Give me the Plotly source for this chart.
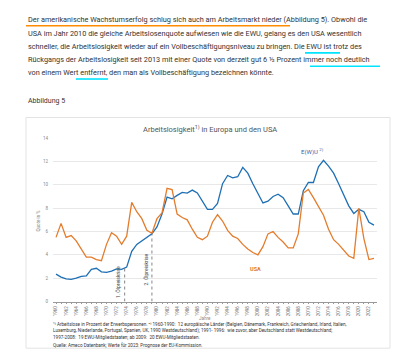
import plotly.graph_objects as go

years = list(range(1960, 2024))
ewu = [2.35, 2.1, 1.95, 1.9, 2.0, 2.15, 2.2, 2.75, 2.85, 2.55,
       2.5, 2.6, 2.8, 2.75, 2.95, 4.3, 4.9, 5.2, 5.55, 5.8,
       6.4, 7.5, 8.95, 8.8, 9.1, 9.35, 9.3, 9.55, 9.3, 8.6,
       7.9, 7.9, 8.4, 10.1, 10.8, 10.6, 10.7, 11.5, 11.0, 10.1,
       9.2, 8.45, 8.6, 9.0, 9.2, 8.9, 8.2, 7.5, 7.5, 9.5,
       10.2, 10.2, 11.55, 12.1, 11.6, 11.0, 10.1, 9.2, 8.2, 7.55,
       7.9, 7.7, 6.8, 6.55]
usa = [5.5, 6.7, 5.5, 5.65, 5.2, 4.5, 3.8, 3.8, 3.6, 3.5,
       4.9, 5.9, 5.6, 4.9, 5.6, 8.5, 7.7, 7.1, 6.1, 5.85,
       7.1, 7.6, 9.7, 9.6, 7.5, 7.2, 7.0, 6.2, 5.5, 5.3,
       5.6, 6.8, 7.45, 6.9, 6.1, 5.6, 5.4, 4.9, 4.5, 4.2,
       4.0, 4.7, 5.8, 6.0, 5.5, 5.1, 4.6, 4.6, 5.8, 9.3,
       9.6, 8.9, 8.1, 7.4, 6.2, 5.3, 4.9, 4.4, 3.9, 3.7,
       8.0, 5.4, 3.6, 3.7]
event_years = [1973.6, 1979]
event_tops = [2.9, 5.8]
event_labels = ["1. Ölpreiskrise", "2. Ölpreiskrise"]
y_ticks = [0, 2, 4, 6, 8, 10, 12, 14]
x_ticks = list(range(1960, 2023, 2))

paragraph = [
    "Der amerikanische Wachstumserfolg schlug sich auch am Arbeitsmarkt nieder (Abbildung 5). Obwohl die",
    "USA im Jahr 2010 die gleiche Arbeitslosenquote aufwiesen wie die EWU, gelang es den USA wesentlich",
    "schneller, die Arbeitslosigkeit wieder auf ein Vollbeschäftigungsniveau zu bringen. Die EWU ist trotz des",
    "Rückgangs der Arbeitslosigkeit seit 2013 mit einer Quote von derzeit gut 6 ½ Prozent immer noch deutlich",
    "von einem Wert entfernt, den man als Vollbeschäftigung bezeichnen könnte.",
]
footnotes = [
    "¹⁾ Arbeitslose in Prozent der Erwerbspersonen. ²⁾ 1960-1990:  12 europäische Länder (Belgien, Dänemark, Frankreich, Griechenland, Irland, Italien,",
    "Luxemburg, Niederlande, Portugal, Spanien, UK, 1990 Westdeutschland); 1991- 1996:  wie zuvor, aber Deutschland statt Westdeutschland;",
    "1997-2008:  19 EWU-Mitgliedstaaten; ab 2009:  20 EWU-Mitgliedstaaten.",
    "Quelle: Ameco Datenbank; Werte für 2023: Prognose der EU-Kommission.",
]

W, H = 400, 356
def px(x): return x / W
def py(y): return 1 - y / H

BLUE = "#1f6fb4"
ORANGE = "#e47c2c"
FONT = "Roboto"

fig = go.Figure()
fig.add_trace(go.Scatter(x=years, y=ewu, mode="lines", line=dict(color=BLUE, width=1.3), hoverinfo="skip"))
fig.add_trace(go.Scatter(x=years, y=usa, mode="lines", line=dict(color=ORANGE, width=1.3), hoverinfo="skip"))

shapes = []
annotations = []

# chart box
shapes.append(dict(type="rect", xref="paper", yref="paper", x0=px(18), x1=px(382), y0=py(343), y1=py(109),
                   line=dict(color="#e3e3e3", width=1), layer="below"))

for yr, top, lab in zip(event_years, event_tops, event_labels):
    shapes.append(dict(type="line", xref="x", yref="y", x0=yr, x1=yr, y0=0, y1=top,
                       line=dict(color="#666", width=0.8, dash="dot")))
annotations.append(dict(x=event_years[0], y=0.1, xref="x", yref="y", text=event_labels[0], showarrow=False,
                        textangle=-90, xanchor="right", yanchor="bottom", xshift=-1,
                        font=dict(family=FONT, size=5, color="#444")))
annotations.append(dict(x=event_years[1], y=1.2, xref="x", yref="y", text=event_labels[1], showarrow=False,
                        textangle=-90, xanchor="right", yanchor="bottom", xshift=-1,
                        font=dict(family=FONT, size=5, color="#444")))

# paragraph
line_y = [10, 23.5, 37, 50, 63]
for t, yy in zip(paragraph, line_y):
    annotations.append(dict(x=px(18), y=py(yy), xref="paper", yref="paper", text=t, showarrow=False,
                            xanchor="left", yanchor="middle", font=dict(family=FONT, size=7.3, color="#333")))
# underlines
ul = [(18, 282, 16, "#ff8c00"), (297, 332, 43.5, "#00e5ff"), (302, 372, 57, "#00e5ff"), (68, 100, 70, "#00e5ff")]
for x0, x1, yy, c in ul:
    shapes.append(dict(type="line", xref="paper", yref="paper", x0=px(x0), x1=px(x1), y0=py(yy), y1=py(yy),
                       line=dict(color=c, width=1.6)))

annotations.append(dict(x=px(18), y=py(92), xref="paper", yref="paper", text="Abbildung 5", showarrow=False,
                        xanchor="left", yanchor="middle", font=dict(family=FONT, size=7, color="#333")))
annotations.append(dict(x=px(202), y=py(120.5), xref="paper", yref="paper",
                        text="Arbeitslosigkeit<sup>1)</sup> in Europa und den USA", showarrow=False,
                        xanchor="center", yanchor="middle", font=dict(family=FONT, size=7.5, color="#555")))
annotations.append(dict(x=px(304), y=py(143.5), xref="paper", yref="paper",
                        text="E(W)U <sup>2)</sup>", showarrow=False,
                        xanchor="center", yanchor="middle", font=dict(family=FONT, size=6, color="#3a63a8")))
annotations.append(dict(x=px(247), y=py(263), xref="paper", yref="paper",
                        text="<b>USA</b>", showarrow=False,
                        xanchor="center", yanchor="middle", font=dict(family=FONT, size=5.5, color="#d9782e")))
annotations.append(dict(x=px(30.5), y=py(214), xref="paper", yref="paper", text="Quote in %", showarrow=False,
                        textangle=-90, xanchor="center", yanchor="middle", font=dict(family=FONT, size=4.5, color="#888")))
annotations.append(dict(x=px(197), y=py(313), xref="paper", yref="paper", text="Jahre", showarrow=False,
                        xanchor="center", yanchor="middle", font=dict(family=FONT, size=4.5, color="#888")))
foot_y = [318.5, 325.5, 332.5, 339.5]
for t, yy in zip(footnotes, foot_y):
    annotations.append(dict(x=px(43), y=py(yy), xref="paper", yref="paper", text=t, showarrow=False,
                            xanchor="left", yanchor="middle", font=dict(family=FONT, size=4.6, color="#333")))

fig.update_layout(
    width=W, height=H, margin=dict(l=0, r=0, t=0, b=0),
    paper_bgcolor="white", plot_bgcolor="white", showlegend=False,
    shapes=shapes, annotations=annotations,
    xaxis=dict(domain=[px(45), px(369)], range=[1959.4, 2023.6], tickvals=x_ticks,
               ticktext=[str(v) for v in x_ticks], tickangle=-90, showgrid=False, zeroline=False,
               showline=True, linecolor="#999", linewidth=0.8, ticks="outside", ticklen=2, tickcolor="#999",
               minor=dict(dtick=1, ticks="outside", ticklen=2, tickcolor="#999", showgrid=False),
               tickfont=dict(family=FONT, size=4.5, color="#777")),
    yaxis=dict(domain=[py(295.7), py(130)], range=[0, 14], tickvals=y_ticks, showgrid=True,
               gridcolor="#e8e8e8", gridwidth=0.8, zeroline=False, showline=False,
               tickfont=dict(family=FONT, size=4.5, color="#888"), ticklabelstandoff=4),
)
fig.write_html("out.html")
